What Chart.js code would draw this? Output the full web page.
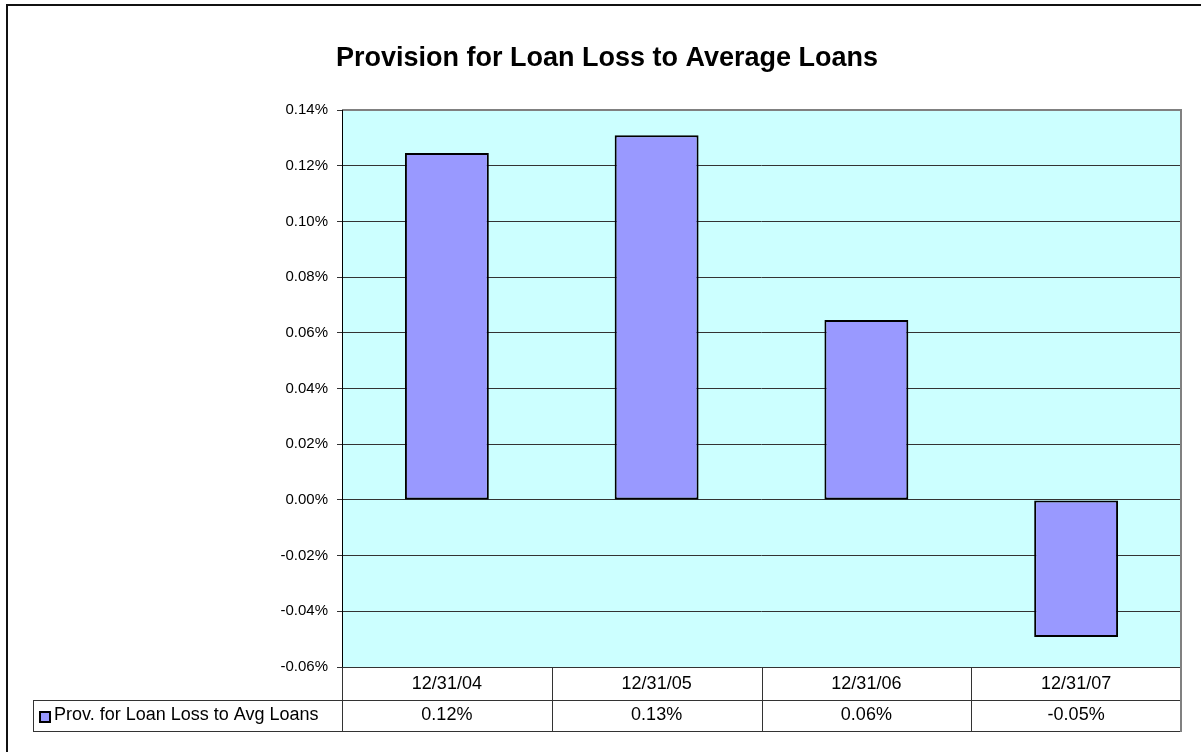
<!DOCTYPE html>
<html>
<head>
<meta charset="utf-8">
<script src="https://cdn.jsdelivr.net/npm/chart.js@4"></script>
<style>
  html, body { margin: 0; padding: 0; background: #fff; }
  #wrap { position: relative; width: 1201px; height: 752px; }
</style>
</head>
<body>
<div id="wrap"><canvas id="provChart" width="1201" height="752"></canvas></div>
<script>
/* ====== data ====== */
const categories = ['12/31/04', '12/31/05', '12/31/06', '12/31/07'];
const seriesName = 'Prov. for Loan Loss to Avg Loans';
const provValues = [0.1246, 0.1309, 0.0646, -0.0492]; // in percent
const yTicks = [-0.06, -0.04, -0.02, 0.00, 0.02, 0.04, 0.06, 0.08, 0.10, 0.12, 0.14];

const FONT = "'Liberation Sans', Arial, sans-serif";
const pct = v => v.toFixed(2) + '%';

// plot background, frame and the data table under the chart
const excelLook = {
  id: 'excelLook',
  beforeDraw(chart) {
    const { ctx, chartArea: a } = chart;
    ctx.save();
    ctx.fillStyle = '#CCFFFF';
    ctx.fillRect(a.left, a.top, a.right - a.left, a.bottom - a.top);
    // outer chart frame (left + top visible)
    ctx.fillStyle = '#111';
    ctx.fillRect(6, 4, 2, 752);
    ctx.fillRect(6, 4, 1201, 2);
    ctx.restore();
  },
  afterDatasetsDraw(chart) {
    const { ctx, chartArea: a, scales: { x } } = chart;
    ctx.save();
    // plot area border
    ctx.strokeStyle = '#808080';
    ctx.lineWidth = 2;
    ctx.beginPath();
    ctx.moveTo(a.left, a.top);
    ctx.lineTo(a.right, a.top);
    ctx.lineTo(a.right, a.bottom);
    ctx.stroke();
    ctx.strokeStyle = '#000';
    ctx.lineWidth = 1;
    ctx.beginPath();
    ctx.moveTo(a.left + 0.5, a.top);
    ctx.lineTo(a.left + 0.5, a.bottom);
    ctx.stroke();

    // data table
    const rowH = 33, row2 = 31;
    const y0 = a.bottom, y1 = y0 + rowH, y2 = y1 + row2;
    const legendLeft = 33;
    ctx.strokeStyle = '#333';
    ctx.lineWidth = 1;
    ctx.beginPath();
    ctx.moveTo(a.left, y0 + 0.5); ctx.lineTo(a.right, y0 + 0.5);
    ctx.moveTo(legendLeft, y1 + 0.5); ctx.lineTo(a.right, y1 + 0.5);
    ctx.moveTo(legendLeft, y2 + 0.5); ctx.lineTo(a.right, y2 + 0.5);
    ctx.moveTo(legendLeft + 0.5, y1); ctx.lineTo(legendLeft + 0.5, y2);
    for (let i = 0; i <= categories.length; i++) {
      const bx = Math.round(x.getPixelForValue(i - 0.5)) + 0.5;
      ctx.moveTo(bx, y0); ctx.lineTo(bx, y2);
    }
    ctx.stroke();
    ctx.strokeStyle = '#808080';
    ctx.lineWidth = 2;
    ctx.beginPath();
    ctx.moveTo(a.right, y0); ctx.lineTo(a.right, y2 + 1);
    ctx.stroke();

    ctx.fillStyle = '#000';
    ctx.font = '18px ' + FONT;
    ctx.textAlign = 'center';
    ctx.textBaseline = 'middle';
    categories.forEach((c, i) => {
      const cx = x.getPixelForValue(i);
      ctx.fillText(c, cx, y0 + rowH / 2 + 1);
      ctx.fillText(pct(provValues[i]), cx, y1 + row2 / 2);
    });
    // legend key
    ctx.fillStyle = '#9999FF';
    ctx.fillRect(39, y1 + 11, 11, 11);
    ctx.strokeStyle = '#000';
    ctx.lineWidth = 2;
    ctx.strokeRect(40, y1 + 12, 10, 10);
    ctx.fillStyle = '#000';
    ctx.textAlign = 'left';
    ctx.fillText(seriesName, 54, y1 + row2 / 2);
    ctx.restore();
  }
};

const ctx = document.getElementById('provChart');
new Chart(ctx, {
  type: 'bar',
  data: {
    labels: categories,
    datasets: [{
      label: seriesName,
      data: provValues,
      backgroundColor: '#9999FF',
      borderColor: '#000',
      borderWidth: 2,
      borderSkipped: false,
      barPercentage: 0.4,
      categoryPercentage: 1
    }]
  },
  options: {
    responsive: false,
    animation: false,
    layout: { padding: { left: 33, right: 20, top: 0, bottom: 85 } },
    plugins: {
      legend: { display: false },
      tooltip: { enabled: false },
      title: {
        display: true,
        text: 'Provision for Loan Loss to Average Loans',
        color: '#000',
        font: { family: FONT, size: 27, weight: 'bold' },
        padding: { top: 42, bottom: 35.6 }
      }
    },
    scales: {
      x: { display: false, offset: true },
      y: {
        min: yTicks[0],
        max: yTicks[yTicks.length - 1],
        afterFit(scale) { scale.width = 342 - 33; },
        afterBuildTicks(scale) { scale.ticks = yTicks.map(v => ({ value: v })); },
        grid: { color: '#333', lineWidth: 1, tickLength: 5, drawTicks: true },
        border: { display: false },
        ticks: {
          color: '#000',
          padding: 9,
          font: { family: FONT, size: 15 },
          callback: v => pct(v)
        }
      }
    }
  },
  plugins: [excelLook]
});
</script>
</body>
</html>
